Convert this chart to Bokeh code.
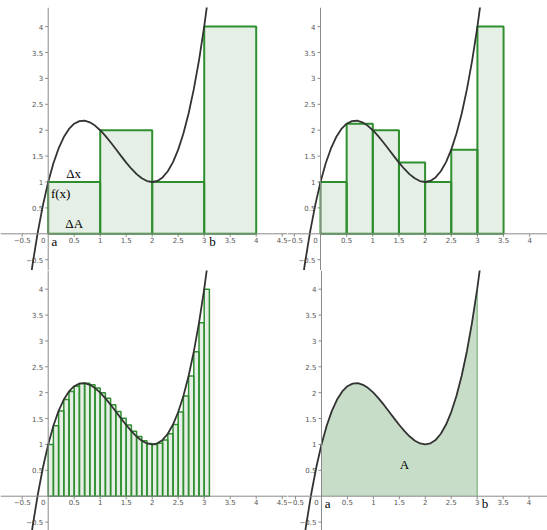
from bokeh.plotting import figure
from bokeh.layouts import column, row
from bokeh.models import Span
from bokeh.core.properties import value
from bokeh.embed import file_html
from bokeh.resources import INLINE

# ---- data ----
curve_x = [-0.4, -0.3, -0.2, -0.1, 0.0, 0.1, 0.2, 0.3, 0.4, 0.5, 0.6, 0.7, 0.8, 0.9,
           1.0, 1.1, 1.2, 1.3, 1.4, 1.5, 1.6, 1.7, 1.8, 1.9, 2.0, 2.1, 2.2, 2.3, 2.4,
           2.5, 2.6, 2.7, 2.8, 2.9, 3.0, 3.1, 3.2]
curve_y = [-1.304, -0.587, 0.032, 0.559, 1.0, 1.361, 1.648, 1.867, 2.024, 2.125, 2.176,
           2.183, 2.152, 2.089, 2.0, 1.891, 1.768, 1.637, 1.504, 1.375, 1.256, 1.153,
           1.072, 1.019, 1.0, 1.021, 1.088, 1.207, 1.384, 1.625, 1.936, 2.323, 2.792,
           3.349, 4.0, 4.751, 5.608]

coarse_left = [0, 1, 2, 3]
coarse_width = 1.0
coarse_heights = [1, 2, 1, 4]

mid_left = [0, 0.5, 1, 1.5, 2, 2.5, 3]
mid_width = 0.5
mid_heights = [1, 2.125, 2, 1.375, 1, 1.625, 4]

fine_left = [0.0, 0.1, 0.2, 0.3, 0.4, 0.5, 0.6, 0.7, 0.8, 0.9, 1.0, 1.1, 1.2, 1.3, 1.4,
             1.5, 1.6, 1.7, 1.8, 1.9, 2.0, 2.1, 2.2, 2.3, 2.4, 2.5, 2.6, 2.7, 2.8, 2.9, 3.0]
fine_width = 0.1
fine_heights = [1.0, 1.361, 1.648, 1.867, 2.024, 2.125, 2.176, 2.183, 2.152, 2.089, 2.0,
                1.891, 1.768, 1.637, 1.504, 1.375, 1.256, 1.153, 1.072, 1.019, 1.0,
                1.021, 1.088, 1.207, 1.384, 1.625, 1.936, 2.323, 2.792, 3.349, 4.0]

area_a = 0.0
area_b = 3.0

x_tick_vals_left = [-0.5, 0.5, 1, 1.5, 2, 2.5, 3, 3.5, 4, 4.5]
x_tick_labels_left = ["\u22120.5", "0.5", "1", "1.5", "2", "2.5", "3", "3.5", "4", "4.5"]
x_tick_vals_right = [-0.5, 0.5, 1, 1.5, 2, 2.5, 3, 3.5, 4]
x_tick_labels_right = ["\u22120.5", "0.5", "1", "1.5", "2", "2.5", "3", "3.5", "4"]
y_tick_vals = [-0.5, 0.5, 1, 1.5, 2, 2.5, 3, 3.5, 4]
y_tick_labels = ["\u22120.5", "0.5", "1", "1.5", "2", "2.5", "3", "3.5", "4"]

AXIS_COLOR = "#8a8a8a"
LABEL_COLOR = "#555555"
CURVE_COLOR = "#333333"
BAR_LINE = "#2f8f2f"
BAR_FILL = "#006400"
TICK_FONT = value("DejaVu Sans")
SERIF = value("Liberation Serif")


def make_panel(w, h, xr, yr, xt, xl, top=0):
    p = figure(width=w, height=h, x_range=xr, y_range=yr, output_backend="svg",
               toolbar_location=None, x_axis_location=None, y_axis_location=None,
               min_border=0, min_border_left=0, min_border_right=0,
               min_border_top=top, min_border_bottom=0,
               outline_line_color=None, background_fill_color="white",
               border_fill_color="white")
    p.grid.visible = False
    ppx = w / (xr[1] - xr[0])
    ppy = (h - top) / (yr[1] - yr[0])
    p.add_layout(Span(location=0, dimension="width", line_color=AXIS_COLOR, line_width=1))
    p.add_layout(Span(location=0, dimension="height", line_color=AXIS_COLOR, line_width=1))
    # ticks
    p.segment(x0=xt, y0=[0] * len(xt), x1=xt, y1=[-3 / ppy] * len(xt),
              line_color=AXIS_COLOR, line_width=1)
    p.segment(x0=[0] * len(y_tick_vals), y0=y_tick_vals, x1=[-3 / ppx] * len(y_tick_vals),
              y1=y_tick_vals, line_color=AXIS_COLOR, line_width=1)
    # tick labels
    p.text(x=xt, y=[0] * len(xt), text=xl,
           text_font=TICK_FONT, text_font_size="7px", text_color=LABEL_COLOR,
           text_align="center", text_baseline="top", y_offset=3)
    p.text(x=[0], y=[0], text=["0"], text_font=TICK_FONT, text_font_size="7px",
           text_color=LABEL_COLOR, text_align="center", text_baseline="top",
           x_offset=-5, y_offset=3)
    p.text(x=[0] * len(y_tick_vals), y=y_tick_vals, text=y_tick_labels,
           text_font=TICK_FONT, text_font_size="7px", text_color=LABEL_COLOR,
           text_align="right", text_baseline="middle", x_offset=-5)
    return p


def add_bars(p, lefts, width, heights, lw):
    p.quad(left=lefts, right=[l + width for l in lefts], bottom=[0] * len(lefts),
           top=heights, fill_color=BAR_FILL, fill_alpha=0.1,
           line_color=BAR_LINE, line_width=lw)


def add_curve(p):
    p.line(x=curve_x, y=curve_y, line_color=CURVE_COLOR, line_width=1.8)


def add_label(p, x, y, t):
    p.text(x=[x], y=[y], text=[t], text_font=SERIF, text_font_size="13px",
           text_color="black", text_align="center", text_baseline="middle")


W1, W2 = 287, 260
H1, H2 = 270, 260
TOP = 7
XR_L = (-0.9173, 4.602)
XR_R = (-0.631, 4.340)
XR_R4 = (-0.655, 4.355)
YR_T = (-0.7085, 4.369)
YR_B = (-0.663, 4.361)

# top-left: 4 rectangles
p1 = make_panel(W1, H1, XR_L, YR_T, x_tick_vals_left, x_tick_labels_left, TOP)
add_bars(p1, coarse_left, coarse_width, coarse_heights, 2)
add_curve(p1)
add_label(p1, 0.49, 1.17, "\u0394x")
add_label(p1, 0.24, 0.78, "f(x)")
add_label(p1, 0.5, 0.2, "\u0394A")
add_label(p1, 0.12, -0.15, "a")
add_label(p1, 3.16, -0.15, "b")

# top-right: 7 rectangles
p2 = make_panel(W2, H1, XR_R, YR_T, x_tick_vals_right, x_tick_labels_right, TOP)
add_bars(p2, mid_left, mid_width, mid_heights, 2)
add_curve(p2)

# bottom-left: 31 rectangles
p3 = make_panel(W1, H2, XR_L, YR_B, x_tick_vals_left, x_tick_labels_left)
add_bars(p3, fine_left, fine_width, fine_heights, 1.5)
add_curve(p3)

# bottom-right: exact area
p4 = make_panel(W2, H2, XR_R4, YR_B, x_tick_vals_right, x_tick_labels_right)
ax = [x for x in curve_x if area_a <= x <= area_b]
ay = [y for x, y in zip(curve_x, curve_y) if area_a <= x <= area_b]
p4.varea(x=ax, y1=[0] * len(ax), y2=ay, fill_color=BAR_FILL, fill_alpha=0.22)
p4.segment(x0=[area_b], y0=[0], x1=[area_b], y1=[ay[-1]], line_color="#6aa86a", line_width=1)
add_curve(p4)
add_label(p4, 1.6, 0.62, "A")
add_label(p4, 0.12, -0.15, "a")
add_label(p4, 3.15, -0.15, "b")

layout = column(row(p1, p2, spacing=0), row(p3, p4, spacing=0), spacing=0)
open("out.html", "w").write(file_html(layout, INLINE))
